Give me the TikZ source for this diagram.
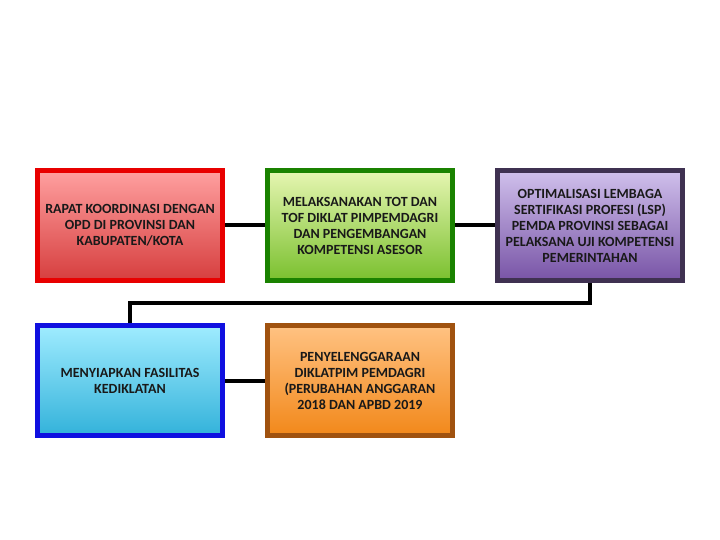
\documentclass[tikz,border=0pt]{standalone}
\usepackage{fontspec}
\setmainfont{Carlito}
\usetikzlibrary{positioning}

\definecolor{redline}{HTML}{E80000}
\definecolor{greenline}{HTML}{1A8200}
\definecolor{purpleline}{HTML}{3F3151}
\definecolor{blueline}{HTML}{1010E0}
\definecolor{orangeline}{HTML}{A0520F}

\begin{document}
\begin{tikzpicture}[node distance={40pt}, x=1pt, y=1pt,
        box/.style = {draw, line width=5pt, minimum width=185pt, minimum height=110pt,
                      align=center, font=\fontsize{14}{16}\selectfont\bfseries, text=black!90},
        link/.style = {line width=4pt, black}]
    \useasboundingbox (0,0) rectangle (720,-540);

    \node[box, draw=redline, top color={rgb,255:red,255;green,160;blue,160}, bottom color={rgb,255:red,214;green,62;blue,62}]
        (rapat) at (130,-225.5) {RAPAT KOORDINASI DENGAN\\OPD DI PROVINSI DAN\\KABUPATEN/KOTA};
    \node[box, draw=greenline, top color={rgb,255:red,230;green,246;blue,178}, bottom color={rgb,255:red,122;green,192;blue,46}]
        (tot) [right=of rapat] {MELAKSANAKAN TOT DAN\\TOF DIKLAT PIMPEMDAGRI\\DAN PENGEMBANGAN\\KOMPETENSI ASESOR};
    \node[box, draw=purpleline, top color={rgb,255:red,208;green,192;blue,236}, bottom color={rgb,255:red,120;green,84;blue,166}]
        (lsp) [right=of tot] {OPTIMALISASI LEMBAGA\\SERTIFIKASI PROFESI (LSP)\\PEMDA PROVINSI SEBAGAI\\PELAKSANA UJI KOMPETENSI\\PEMERINTAHAN};

    \node[box, draw=blueline, top color={rgb,255:red,160;green,236;blue,255}, bottom color={rgb,255:red,50;green,178;blue,218}]
        (fasilitas) [below=of rapat] {MENYIAPKAN FASILITAS\\KEDIKLATAN};
    \node[box, draw=orangeline, top color={rgb,255:red,255;green,194;blue,130}, bottom color={rgb,255:red,242;green,136;blue,26}]
        (diklat) [right=of fasilitas] {PENYELENGGARAAN\\DIKLATPIM PEMDAGRI\\(PERUBAHAN ANGGARAN\\2018 DAN APBD 2019};

    \draw[link] (rapat) -- (tot);
    \draw[link] (tot) -- (lsp);
    \draw[link] (lsp.south) -- ++(0,-20) -| (fasilitas.north);
    \draw[link] (fasilitas) -- (diklat);
\end{tikzpicture}
\end{document}
